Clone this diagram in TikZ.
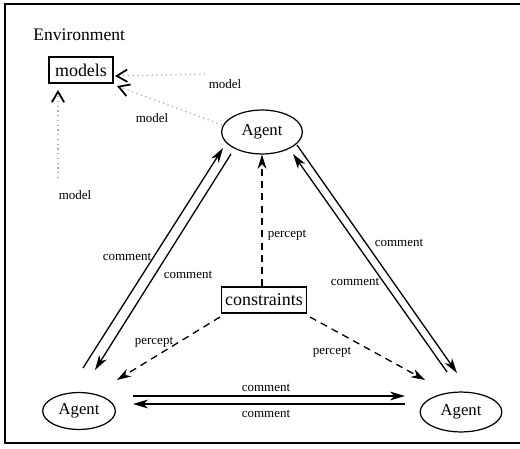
\documentclass[tikz,border=0pt]{standalone}
\usepackage{fontspec}
\setmainfont{Liberation Serif}
\usetikzlibrary{arrows.meta,calc,shapes.geometric}
\begin{document}
\begin{tikzpicture}[x=0.02cm,y=-0.02cm,
  agent/.style={draw,ellipse,inner sep=0pt,line width=0.7pt,font=\fontsize{9.5}{11}\selectfont},
  boxnode/.style={draw,rectangle,inner sep=0pt,line width=0.7pt,minimum height=14.7pt,font=\fontsize{10.2}{12}\selectfont},
  lbl/.style={font=\fontsize{7.4}{9}\selectfont,inner sep=0pt},
  cmarr/.style={-{Stealth[length=8.5pt,width=5pt,inset=2.5pt]},line width=0.75pt},
  pcarr/.style={dash pattern=on 4pt off 3pt,-{Stealth[length=8pt,width=5pt,inset=2.5pt]},line width=0.75pt},
  mdarr/.style={dotted,gray!65,line width=0.7pt,-{Straight Barb[length=6pt,width=7pt,line width=1pt,black]}},
  framel/.style={line width=0.8pt}]
\useasboundingbox (0,0) rectangle (520,449);
\draw[framel] (520,4) -- (5,4) -- (5,443) -- (520,443);

\node[anchor=west,inner sep=0pt,font=\fontsize{10}{12}\selectfont] (env) at (33,35) {Environment};
\node[boxnode,minimum width=36.3pt] (models) at (81,70) {models};
\node[agent,minimum width=46pt,minimum height=25pt] (agT) at (262,132) {Agent};
\node[agent,minimum width=41.4pt,minimum height=21pt] (agL) at (79,411) {Agent};
\node[agent,minimum width=46.5pt,minimum height=22.7pt] (agR) at (461,412) {Agent};
\node[boxnode,minimum width=48.2pt] (cons) at (264,300) {constraints};

% comment pairs
\draw[cmarr] ($(agL)+(4,-43)$) -- ($(agT)+(-39,16)$);
\draw[cmarr] ($(agT)+(-31,22)$) -- ($(agL)+(16,-41)$);
\draw[cmarr] ($(agT)+(35,13)$) -- ($(agR)+(-4,-39)$);
\draw[cmarr] ($(agR)+(-14,-40)$) -- ($(agT)+(31,22)$);
\draw[cmarr] ($(agL)+(54,-15)$) -- ($(agR)+(-56,-16)$);
\draw[cmarr] ($(agR)+(-56,-8)$) -- ($(agL)+(54,-7)$);

% percepts
\draw[pcarr] ($(cons.north)+(-2,0)$) -- (agT.south);
\draw[pcarr] ($(cons)+(-44,17)$) -- ($(agL)+(38,-31)$);
\draw[pcarr] ($(cons)+(46,17)$) -- ($(agR)+(-36,-32)$);

% models
\coordinate (mA) at (205,74);
\coordinate (mC) at (58,178);
\draw[mdarr] (mA) -- ($(models)+(34,6)$);
\draw[mdarr] ($(agT)+(-40,-7)$) -- ($(models)+(36,16)$);
\draw[mdarr] (mC) -- ($(models)+(-23,20)$);

% labels
\node[lbl] (l1) at (127,257) {comment};
\node[lbl] (l2) at (188,275) {comment};
\node[lbl] (l3) at (399,243) {comment};
\node[lbl] (l4) at (355,282) {comment};
\node[lbl] (l5) at (266,388) {comment};
\node[lbl] (l6) at (266,414) {comment};
\node[lbl] (p1) at (287,235) {percept};
\node[lbl] (p2) at (154,342) {percept};
\node[lbl] (p3) at (332,352) {percept};
\node[lbl] (ml1) at (225,84) {model};
\node[lbl] (ml2) at (152,118) {model};
\node[lbl] (ml3) at (75,195) {model};
\end{tikzpicture}
\end{document}
